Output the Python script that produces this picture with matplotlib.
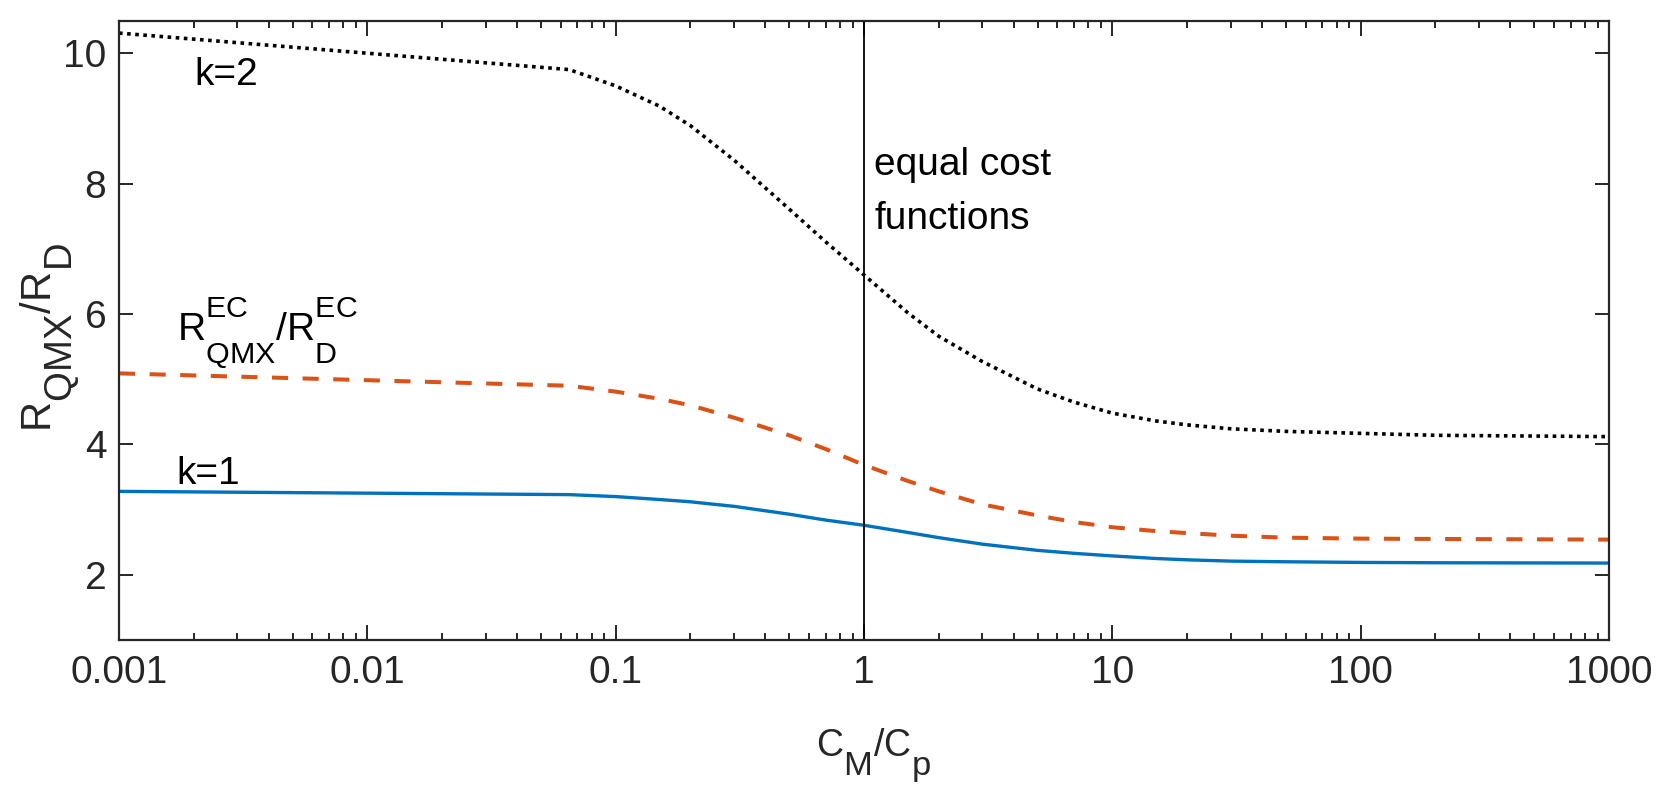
import matplotlib
matplotlib.use("Agg")
import matplotlib.pyplot as plt
from matplotlib.ticker import FixedLocator, LogLocator, NullFormatter

try:
    import matplotlib._mathtext as _mt
    _mt.FontConstantsBase.sup1 = 1.1
    _mt.FontConstantsBase.sub1 = 0.95
    _mt.FontConstantsBase.sub2 = 1.1
except Exception:
    _mt = None


def set_shrink(v):
    if _mt is not None and hasattr(_mt, 'SHRINK_FACTOR'):
        _mt.SHRINK_FACTOR = v


plt.rcParams['font.family'] = ['Liberation Sans', 'DejaVu Sans']
plt.rcParams['mathtext.fontset'] = 'custom'
plt.rcParams['mathtext.rm'] = 'Liberation Sans'
plt.rcParams['mathtext.it'] = 'Liberation Sans:italic'
plt.rcParams['mathtext.bf'] = 'Liberation Sans:bold'
plt.rcParams['mathtext.default'] = 'regular'

# ---- data ----
cost_ratio = [0.001, 0.065, 0.1, 0.15, 0.2, 0.3, 0.5, 0.7, 1, 1.5, 2, 3, 5, 7,
              10, 15, 20, 30, 50, 100, 200, 1000]
ratio_k2 = [10.31, 9.75, 9.50, 9.19, 8.89, 8.36, 7.61, 7.11, 6.60, 6.02, 5.66,
            5.27, 4.85, 4.65, 4.48, 4.36, 4.30, 4.24, 4.20, 4.17, 4.14, 4.12]
ratio_ec = [5.09, 4.90, 4.81, 4.70, 4.60, 4.41, 4.14, 3.93, 3.685, 3.44, 3.28,
            3.08, 2.91, 2.81, 2.73, 2.67, 2.64, 2.60, 2.57, 2.555, 2.55, 2.54]
ratio_k1 = [3.28, 3.23, 3.20, 3.155, 3.12, 3.05, 2.93, 2.84, 2.76, 2.65, 2.57,
            2.47, 2.375, 2.33, 2.29, 2.25, 2.23, 2.21, 2.20, 2.19, 2.185, 2.18]
equal_cost_x = 1.0

x_ticks = [0.001, 0.01, 0.1, 1, 10, 100, 1000]
x_tick_labels = ['0.001', '0.01', '0.1', '1', '10', '100', '1000']
y_ticks = [2, 4, 6, 8, 10]
y_tick_labels = ['2', '4', '6', '8', '10']

BLUE = '#0072BD'
ORANGE = '#D95319'
DARK = '#262626'

W, H = 1662, 794
fig = plt.figure(figsize=(W / 100, H / 100), dpi=100)
ax = fig.add_axes([119 / W, 1 - 640 / H, (1609 - 119) / W, (640 - 20.7) / H])

ax.plot(cost_ratio, ratio_k1, color=BLUE, lw=2.4, solid_capstyle='butt')
ax.plot(cost_ratio, ratio_ec, color=ORANGE, lw=2.9, linestyle=(0, (4, 3.6)),
        dash_capstyle='butt')
ax.plot(cost_ratio, ratio_k2, color='black', lw=2.6, linestyle=(0, (1, 1.25)),
        dash_capstyle='butt')
ax.axvline(equal_cost_x, color='black', lw=1.3)

ax.set_xscale('log')
ax.set_xlim(1e-3, 1e3)
ax.set_ylim(1, 10.5)
ax.xaxis.set_major_locator(FixedLocator(x_ticks))
ax.set_xticklabels(x_tick_labels)
ax.xaxis.set_minor_locator(LogLocator(base=10, subs=range(2, 10), numticks=50))
ax.xaxis.set_minor_formatter(NullFormatter())
ax.set_yticks(y_ticks)
ax.set_yticklabels(y_tick_labels)

for s in ax.spines.values():
    s.set_linewidth(1.6)
    s.set_color(DARK)

ax.tick_params(which='both', direction='in', top=True, right=True,
               color=DARK, labelcolor=DARK, width=1.4)
ax.tick_params(axis='x', which='major', length=10.5, pad=11, labelsize=28)
ax.tick_params(axis='x', which='minor', length=5.3)
ax.tick_params(axis='y', which='major', length=10, pad=9, labelsize=28)

# axis labels: subscripts nearly full size, as in the reference
set_shrink(0.92)
fig.text(874 / W, 1 - 756 / H, r'$C_{M}/C_{p}$', ha='center', va='center',
         fontsize=27, color=DARK)
fig.text(50 / W, 1 - 338 / H, r'$R_{QMX}/R_{D}$', ha='center', va='center',
         rotation=90, fontsize=30, color=DARK)
fig.canvas.draw()

# annotations
set_shrink(0.78)
ax.text(0.00202, 9.51, 'k=2', fontsize=28, va='baseline', ha='left')
ax.text(0.00171, 3.39, 'k=1', fontsize=28, va='baseline', ha='left')
ax.text(0.00171, 5.60, r'$R^{EC}_{QMX}/R^{EC}_{D}$', fontsize=28,
        va='baseline', ha='left')
ax.text(1.10, 8.13, 'equal cost', fontsize=28, va='baseline', ha='left')
ax.text(1.10, 7.31, 'functions', fontsize=28, va='baseline', ha='left')

fig.savefig('out.png', dpi=100, facecolor='white')
